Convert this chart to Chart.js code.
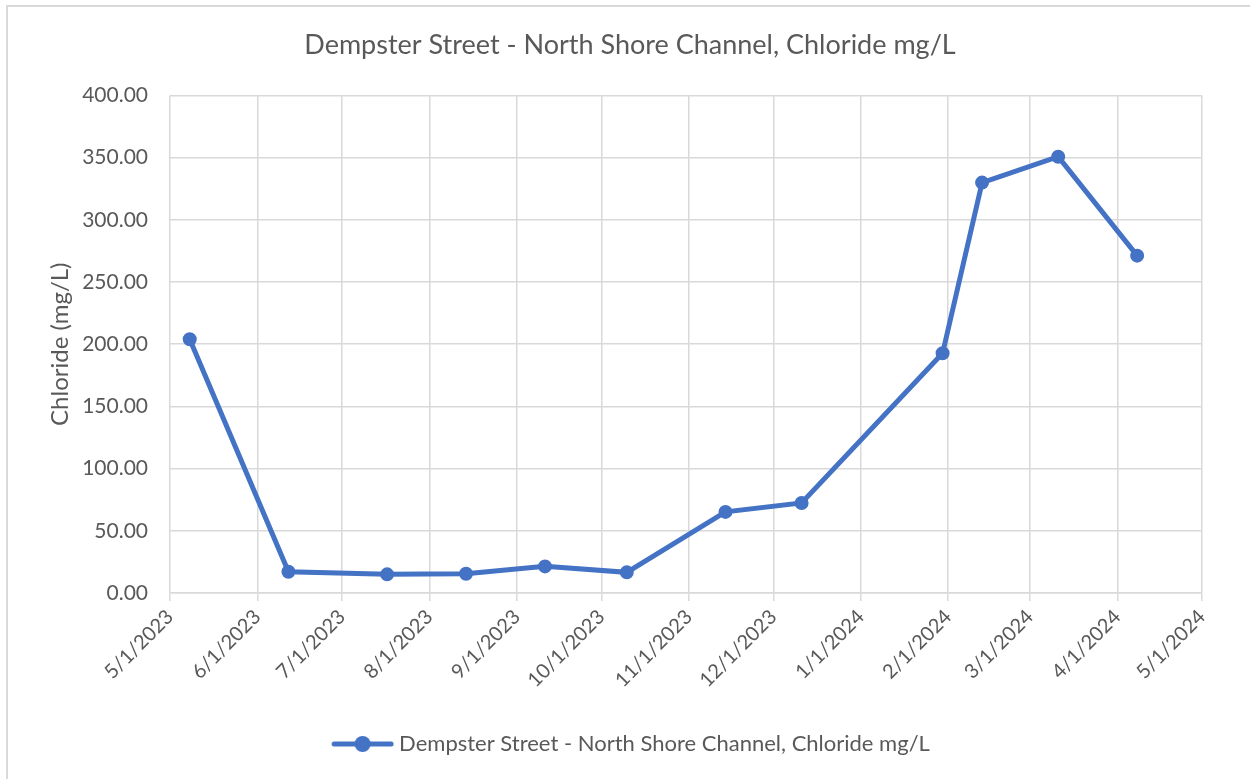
<!DOCTYPE html>
<html>
<head>
<meta charset="utf-8">
<script src="https://cdn.jsdelivr.net/npm/chart.js@4/dist/chart.umd.min.js"></script>
<style>
  html, body { margin: 0; padding: 0; background: #fff; }
  canvas { display: block; }
</style>
</head>
<body>
<canvas id="chart" width="1250" height="779"></canvas>
<script>
// sample dates and chloride readings (mg/L)
const sampleDates = ['2023-05-08', '2023-06-12', '2023-07-17', '2023-08-14', '2023-09-11', '2023-10-10',
                     '2023-11-14', '2023-12-11', '2024-01-30', '2024-02-13', '2024-03-11', '2024-04-08'];
const chloride = [204, 17.1, 15.0, 15.5, 21.4, 16.6, 65.2, 72.4, 192.7, 329.9, 350.7, 271.2];

// month starts shown on the x axis
const tickDates = ['2023-05-01', '2023-06-01', '2023-07-01', '2023-08-01', '2023-09-01', '2023-10-01', '2023-11-01',
                   '2023-12-01', '2024-01-01', '2024-02-01', '2024-03-01', '2024-04-01', '2024-05-01'];

const seriesName = 'Dempster Street - North Shore Channel, Chloride mg/L';
const blue = '#4472C4';
const grey = '#595959';
const gridGrey = '#d9d9d9';

function toMs(s) {
    const p = s.split('-').map(Number);
    return Date.UTC(p[0], p[1] - 1, p[2]);
}

function fmtDate(ms) {
    const d = new Date(ms);
    return (d.getUTCMonth() + 1) + '/' + d.getUTCDate() + '/' + d.getUTCFullYear();
}

// little line + marker picture for the legend
function legendIcon() {
    const c = document.createElement('canvas');
    c.width = 74; c.height = 18;
    const g = c.getContext('2d');
    g.strokeStyle = blue;
    g.lineWidth = 5;
    g.lineCap = 'round';
    g.beginPath();
    g.moveTo(12, 9);
    g.lineTo(69, 9);
    g.stroke();
    g.fillStyle = blue;
    g.beginPath();
    g.arc(40.5, 9, 8, 0, Math.PI * 2);
    g.fill();
    return c;
}

const frame = {
    id: 'frame',
    beforeDraw(chart) {
        const ctx = chart.ctx;
        ctx.save();
        ctx.fillStyle = '#fff';
        ctx.fillRect(0, 0, chart.width, chart.height);
        ctx.strokeStyle = gridGrey;
        ctx.lineWidth = 2;
        ctx.strokeRect(7, 6, 1300, 800);
        ctx.restore();
    }
};

const icon = legendIcon();

new Chart(document.querySelector('#chart').getContext('2d'), {
    type: 'line',
    data: {
        datasets: [{
            label: seriesName,
            data: sampleDates.map((d, i) => ({ x: toMs(d), y: chloride[i] })),
            borderColor: blue,
            backgroundColor: blue,
            borderWidth: 5,
            pointRadius: 6,
            pointBorderWidth: 2,
            pointBackgroundColor: blue,
            pointBorderColor: blue,
            tension: 0
        }]
    },
    options: {
        responsive: false,
        devicePixelRatio: 1,
        animation: false,
        events: [],
        // left padding chosen so title and legend centre where the original has them
        layout: { padding: { left: 58, right: 48, top: 0, bottom: 14 } },
        plugins: {
            title: {
                display: true,
                text: 'Dempster Street - North Shore Channel, Chloride mg/L',
                color: grey,
                font: { family: 'Lato', size: 27, weight: 'normal' },
                padding: { top: 29, bottom: 34 }
            },
            legend: {
                position: 'bottom',
                labels: {
                    color: grey,
                    font: { family: 'Lato', size: 22 },
                    usePointStyle: true,
                    pointStyleWidth: 58,
                    padding: 10,
                    generateLabels(chart) {
                        return [{
                            text: seriesName,
                            fillStyle: blue,
                            strokeStyle: blue,
                            lineWidth: 0,
                            pointStyle: icon,
                            datasetIndex: 0,
                            fontColor: grey
                        }];
                    }
                }
            },
            tooltip: { enabled: false }
        },
        scales: {
            x: {
                type: 'linear',
                min: toMs(tickDates[0]),
                max: toMs(tickDates[tickDates.length - 1]),
                afterBuildTicks(scale) {
                    scale.ticks = tickDates.map(d => ({ value: toMs(d) }));
                },
                afterFit(scale) {
                    scale.height = 130;
                },
                ticks: {
                    autoSkip: false,
                    maxRotation: 45,
                    minRotation: 45,
                    color: grey,
                    font: { family: 'Lato', size: 20 },
                    padding: 4,
                    callback: v => fmtDate(v)
                },
                grid: { color: gridGrey, lineWidth: 1.5, tickLength: 8 },
                border: { color: gridGrey, width: 1.5 }
            },
            y: {
                min: 0,
                max: 400,
                ticks: {
                    stepSize: 50,
                    color: grey,
                    font: { family: 'Lato', size: 21 },
                    padding: 22,
                    callback: v => v.toFixed(2)
                },
                afterFit(scale) {
                    scale.width = 112;
                },
                title: {
                    display: true,
                    text: 'Chloride (mg/L)',
                    color: grey,
                    font: { family: 'Lato', size: 24 },
                    padding: { top: -12, bottom: 0 }
                },
                grid: { color: gridGrey, lineWidth: 1.5, drawTicks: false },
                border: { display: false }
            }
        }
    },
    plugins: [frame]
});
</script>
</body>
</html>
